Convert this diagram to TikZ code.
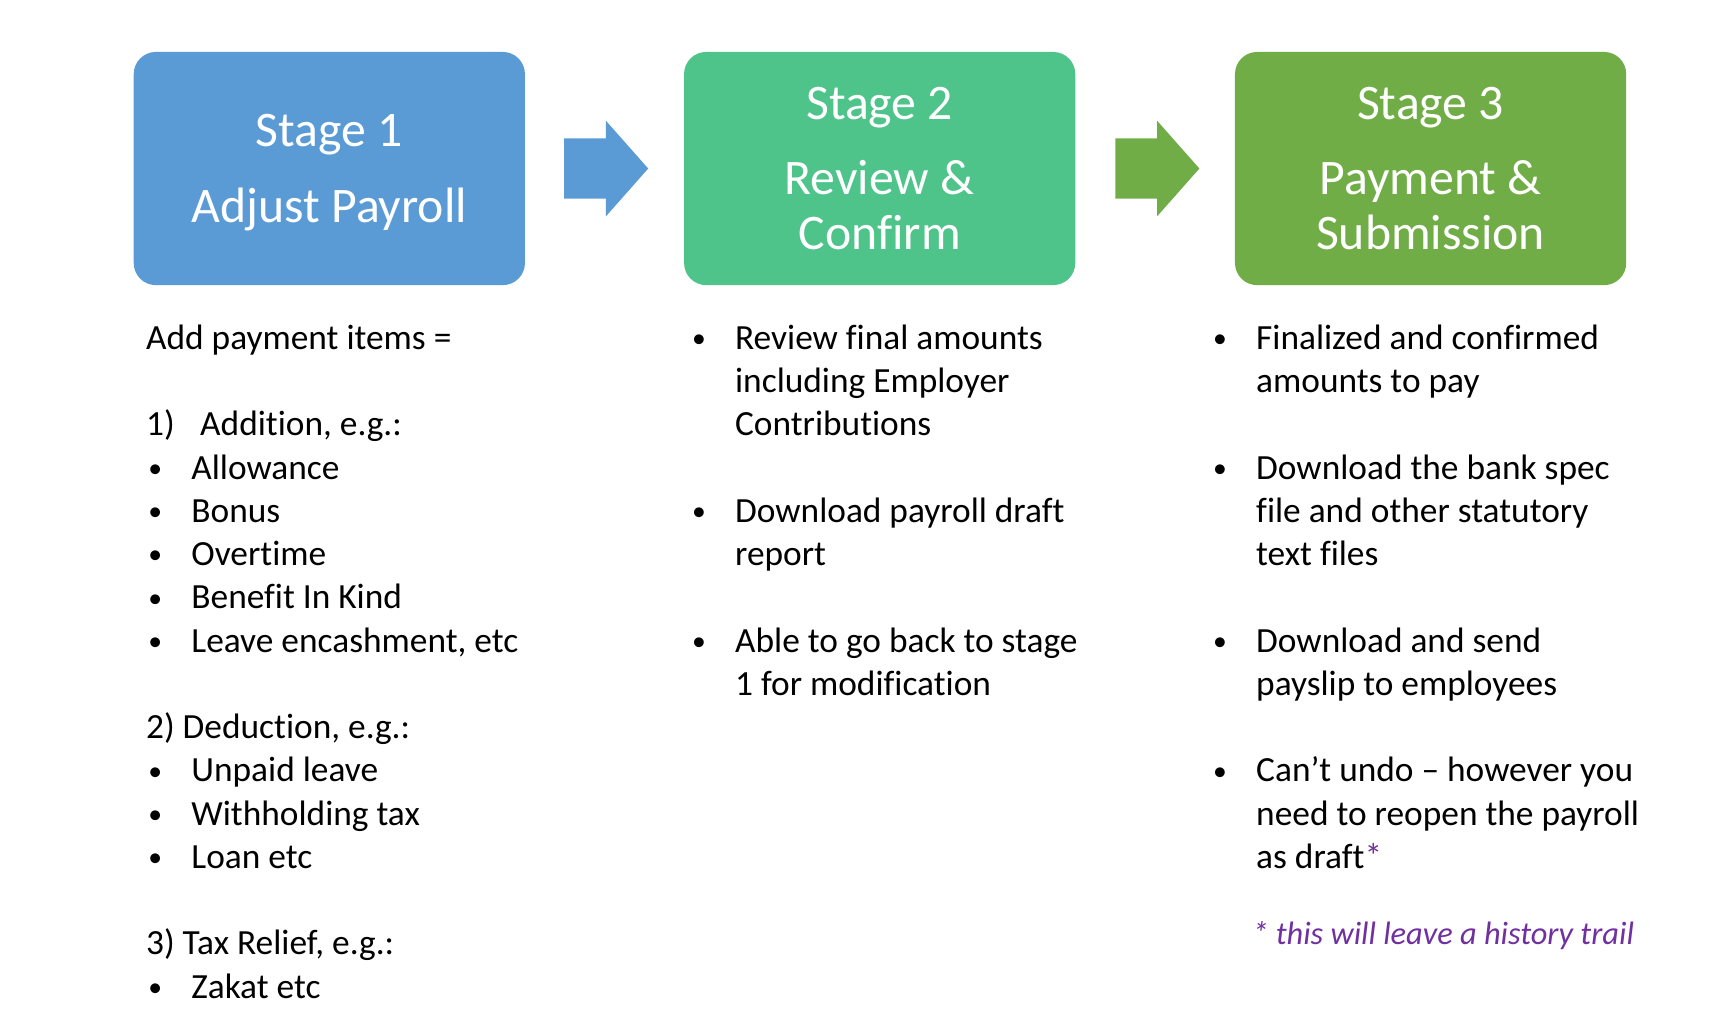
\documentclass[tikz,border=0pt]{standalone}
\usepackage{fontspec}
\setmainfont{Carlito}[Ligatures=CommonOff]
\usetikzlibrary{shapes.arrows,calc}
\definecolor{sblue}{HTML}{5B9BD5}
\definecolor{sgreenA}{HTML}{4EC48B}
\definecolor{sgreenB}{HTML}{70AD47}
\definecolor{fpurple}{HTML}{7030A0}
\newcommand\bitem{\makebox[41pt][l]{\hspace*{2pt}{\fontsize{25}{0}\selectfont\raisebox{1.5pt}{\textbullet}}}}
\newcommand\bcont{\hspace*{41pt}}
\tikzset{
 stagebox/.style={rounded corners=20pt, minimum width=354pt, minimum height=211pt,
   text=white, align=center, font=\fontsize{45}{50}\selectfont, inner sep=0pt},
 blockarrow/.style={single arrow, minimum height=76pt, minimum width=86pt,
   single arrow head extend=16pt, single arrow head indent=0pt,
   single arrow tip angle=97, inner xsep=0pt, inner ysep=27pt},
 coltext/.style={anchor=base west, inner sep=0pt, font=\fontsize{32}{39.15}\selectfont},
 foot/.style={anchor=base west, inner sep=0pt, text=fpurple, font=\fontsize{29.3}{34}\selectfont\itshape},
}
\begin{document}
\begin{tikzpicture}[x=1pt,y=-1pt]
\useasboundingbox (0,0) rectangle (1560,915.7);
\fill[white] (0,0) rectangle (1560,915.7);

\node[stagebox, fill=sblue] (s1) at (298,152.5) {\rule{0pt}{36pt}Stage 1\\[19pt]Adjust Payroll};
\node[stagebox, fill=sgreenA] (s2) at (796,152.5) {Stage 2\\[18pt]Review \&\\Confirm};
\node[stagebox, fill=sgreenB] (s3) at (1294.5,152.5) {Stage 3\\[18pt]Payment \&\\Submission};

\node[blockarrow, fill=sblue] (a1) at ($(s1.east)!0.5!(s2.west)+(-10.5,0)$) {};
\node[blockarrow, fill=sgreenB] (a2) at ($(s2.east)!0.5!(s3.west)+(-10,0)$) {};

\node[coltext] (c1) at (132,316) {\parbox[t]{440pt}{%
Add payment items =\\
\mbox{}\\
\makebox[49pt][l]{1)}Addition, e.g.:\\
\bitem Allowance\\
\bitem Bonus\\
\bitem Overtime\\
\bitem Benefit In Kind\\
\bitem Leave encashment, etc\\
\mbox{}\\
2) Deduction, e.g.:\\
\bitem Unpaid leave\\
\bitem Withholding tax\\
\bitem Loan etc\\
\mbox{}\\
3) Tax Relief, e.g.:\\
\bitem Zakat etc}};

\node[coltext] (c2) at (624,316) {\parbox[t]{440pt}{%
\bitem Review final amounts\\
\bcont including Employer\\
\bcont Contributions\\
\mbox{}\\
\bitem Download payroll draft\\
\bcont report\\
\mbox{}\\
\bitem Able to go back to stage\\
\bcont 1 for modification}};

\node[coltext] (c3) at (1095.5,316) {\parbox[t]{440pt}{%
\bitem Finalized and confirmed\\
\bcont amounts to pay\\
\mbox{}\\
\bitem Download the bank spec\\
\bcont file and other statutory\\
\bcont text files\\
\mbox{}\\
\bitem Download and send\\
\bcont payslip to employees\\
\mbox{}\\
\bitem Can’t undo – however you\\
\bcont need to reopen the payroll\\
\bcont as draft\textcolor{fpurple}{*}}};

\node[foot] (fn) at (1133,855) {* this will leave a history trail};
\end{tikzpicture}
\end{document}
